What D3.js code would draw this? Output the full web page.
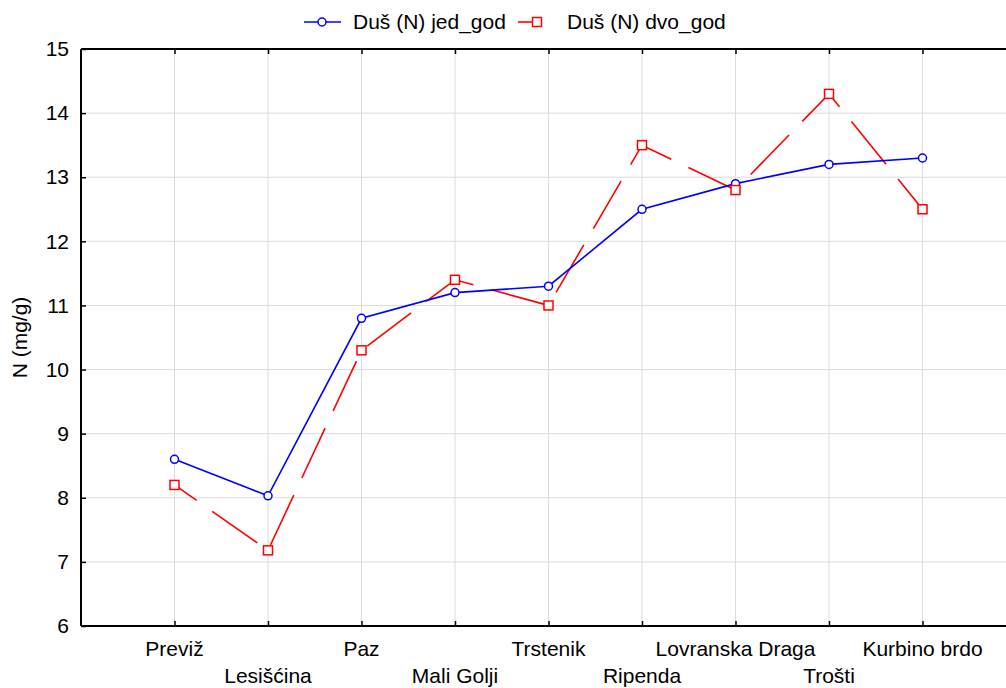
<!DOCTYPE html>
<html><head><meta charset="utf-8">
<script src="https://cdn.jsdelivr.net/npm/d3@7"></script>
<style>
body{margin:0;background:#fff;}
svg{display:block;font-family:"Liberation Sans",Arial,sans-serif;}
</style></head>
<body><svg id="c" width="1006" height="688"></svg>
<script>
const categories=["Previž","Lesišćina","Paz","Mali Golji","Trstenik","Ripenda","Lovranska Draga","Trošti","Kurbino brdo"];
const jedGod=[8.6,8.03,10.8,11.2,11.3,12.5,12.9,13.2,13.3];
const dvoGod=[8.2,7.18,10.3,11.4,11.0,13.5,12.8,14.3,12.5];
const yTicks=[6,7,8,9,10,11,12,13,14,15];
const seriesNames=["Duš (N) jed_god","Duš (N) dvo_god"];
const yLabel="N (mg/g)";
const FS=21;

const svg=d3.select("#c");
const L=81,T=49,B=626,R=1016;
const x=d3.scalePoint().domain(categories).range([L,R]).padding(1);
const y=d3.scaleLinear().domain([6,15]).range([B,T]);

// grid
const g=svg.append("g");
g.selectAll(".gy").data(yTicks.slice(1,-1)).join("line")
 .attr("x1",L).attr("x2",1006).attr("y1",d=>y(d)).attr("y2",d=>y(d))
 .attr("stroke","#dcdcdc").attr("stroke-width",1);
g.selectAll(".gx").data(categories).join("line")
 .attr("x1",d=>x(d)).attr("x2",d=>x(d)).attr("y1",T).attr("y2",B)
 .attr("stroke","#dcdcdc").attr("stroke-width",1);

// axes
const ya=d3.axisLeft(y).tickValues(yTicks).tickSize(-5).tickPadding(12);
const yg=svg.append("g").attr("transform",`translate(${L},0)`).call(ya);
yg.select(".domain").remove();
yg.selectAll("text").attr("font-size",FS).attr("fill","#000").attr("font-family","Liberation Sans, Arial, sans-serif");
yg.selectAll("line").attr("stroke","#000").attr("stroke-width",1.5);

const xa=d3.axisBottom(x).tickSize(-5).tickFormat("");
const xg=svg.append("g").attr("transform",`translate(0,${B})`).call(xa);
xg.select(".domain").remove();
xg.selectAll("line").attr("stroke","#000").attr("stroke-width",1.5);
const xt=d3.axisTop(x).tickSize(-5).tickFormat("");
const xtg=svg.append("g").attr("transform",`translate(0,${T})`).call(xt);
xtg.select(".domain").remove();
xtg.selectAll("line").attr("stroke","#000").attr("stroke-width",1.5);

svg.selectAll(".xl").data(categories).join("text")
 .attr("x",d=>x(d)).attr("y",(d,i)=>i%2===0?656:683)
 .attr("text-anchor","middle").attr("font-size",FS).text(d=>d);

// frame
svg.append("line").attr("x1",L).attr("x2",L).attr("y1",T).attr("y2",B).attr("stroke","#000").attr("stroke-width",2);
svg.append("line").attr("x1",L).attr("x2",1006).attr("y1",B).attr("y2",B).attr("stroke","#000").attr("stroke-width",2);
svg.append("line").attr("x1",L).attr("x2",1006).attr("y1",T).attr("y2",T).attr("stroke","#000").attr("stroke-width",2);

svg.append("text").attr("transform",`translate(27,${(T+B)/2}) rotate(-90)`)
 .attr("text-anchor","middle").attr("font-size",FS).text(yLabel);

const line=d3.line().x((d,i)=>x(categories[i])).y(d=>y(d));
svg.append("path").datum(dvoGod).attr("d",line).attr("fill","none")
 .attr("stroke","#ff0000").attr("stroke-width",1.6).attr("stroke-dasharray","55,19").attr("stroke-dashoffset",28);
svg.append("path").datum(jedGod).attr("d",line).attr("fill","none")
 .attr("stroke","#0000ff").attr("stroke-width",1.6);

svg.selectAll(".mb").data(jedGod).join("circle")
 .attr("cx",(d,i)=>x(categories[i])).attr("cy",d=>y(d)).attr("r",4)
 .attr("fill","#fff").attr("stroke","#0000ff").attr("stroke-width",1.5);
svg.selectAll(".mr").data(dvoGod).join("rect")
 .attr("x",(d,i)=>x(categories[i])-4.5).attr("y",d=>y(d)-4.5).attr("width",9).attr("height",9)
 .attr("fill","#fff").attr("stroke","#ff0000").attr("stroke-width",1.5);

// legend
const lg=svg.append("g");
lg.append("line").attr("x1",304).attr("x2",341).attr("y1",22).attr("y2",22).attr("stroke","#0000ff").attr("stroke-width",1.6);
lg.append("circle").attr("cx",322).attr("cy",22).attr("r",4).attr("fill","#fff").attr("stroke","#0000ff").attr("stroke-width",1.5);
lg.append("text").attr("x",353).attr("y",29).attr("font-size",FS).text(seriesNames[0]);
lg.append("line").attr("x1",518).attr("x2",540).attr("y1",22).attr("y2",22).attr("stroke","#ff0000").attr("stroke-width",1.6);
lg.append("rect").attr("x",532.5).attr("y",17.5).attr("width",9).attr("height",9).attr("fill","#fff").attr("stroke","#ff0000").attr("stroke-width",1.5);
lg.append("text").attr("x",567).attr("y",29).attr("font-size",FS).text(seriesNames[1]);
</script></body></html>
